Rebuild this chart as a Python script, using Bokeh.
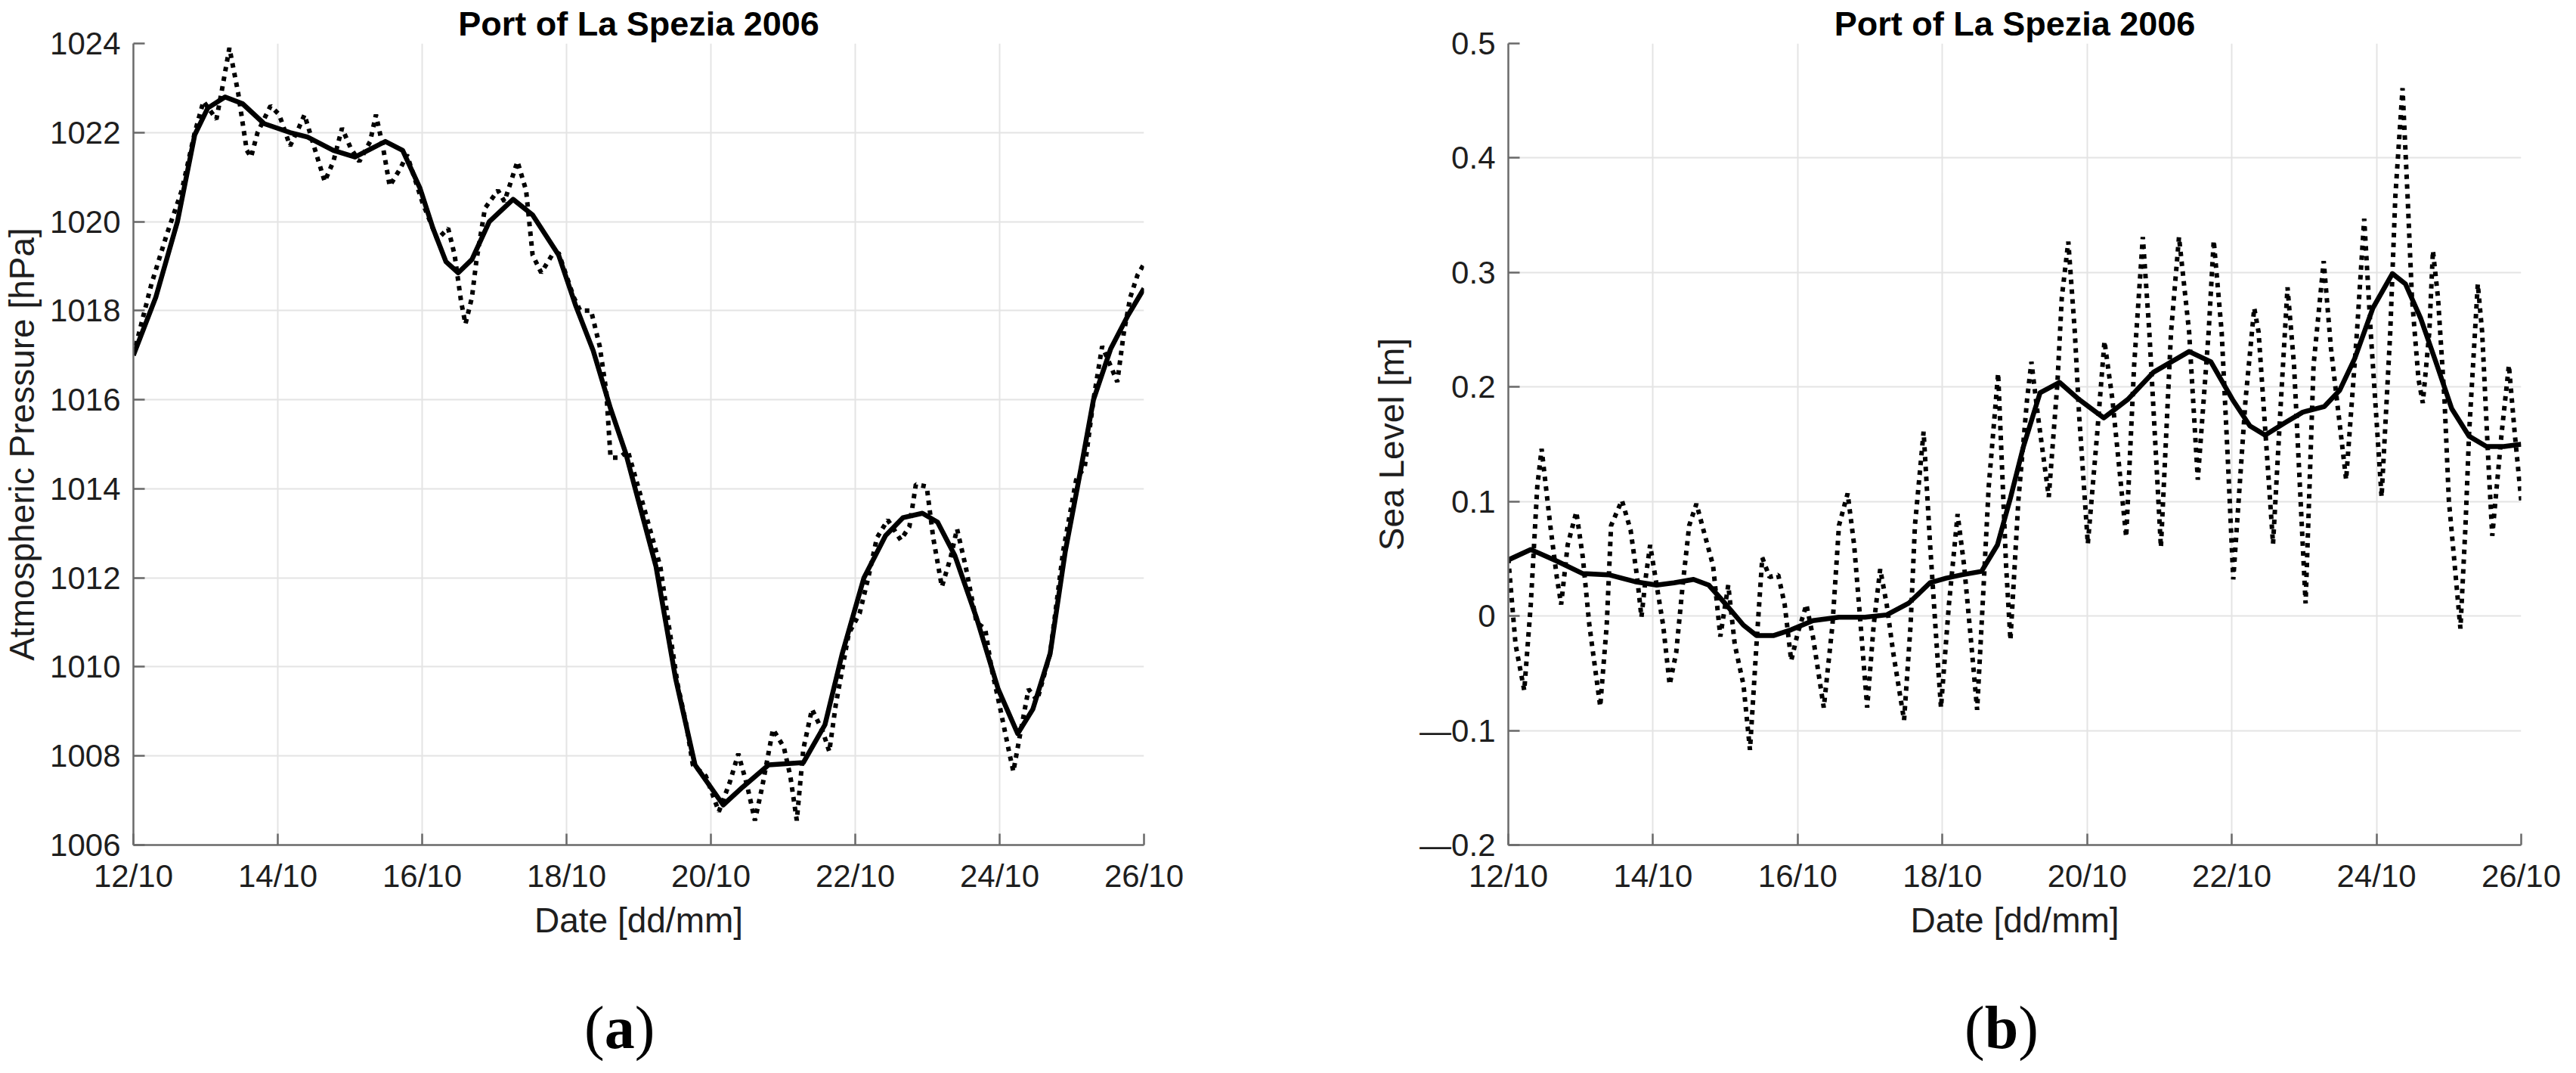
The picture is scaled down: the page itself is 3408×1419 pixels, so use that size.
from bokeh.plotting import figure
from bokeh.layouts import row, column
from bokeh.models import FixedTicker, Range1d, Div
from bokeh.embed import file_html
from bokeh.resources import INLINE

# ---------------- data (time in days of October 2006) ----------------
day_ticks = [12, 14, 16, 18, 20, 22, 24, 26]
day_tick_labels = ["12/10", "14/10", "16/10", "18/10", "20/10", "22/10", "24/10", "26/10"]

pressure_ticks = [1006, 1008, 1010, 1012, 1014, 1016, 1018, 1020, 1022, 1024]
sea_ticks = [-0.2, -0.1, 0, 0.1, 0.2, 0.3, 0.4, 0.5]
sea_tick_labels = ["\u20140.2", "\u20140.1", "0", "0.1", "0.2", "0.3", "0.4", "0.5"]

# atmospheric pressure, hourly record (dotted)
pressure_raw_t = [
    12.00, 12.25, 12.46, 12.67, 12.85, 12.97, 13.15, 13.22, 13.33, 13.45,
    13.57, 13.63, 13.72, 13.90, 14.02, 14.17, 14.29, 14.37, 14.50, 14.65,
    14.77, 14.89, 15.01, 15.13, 15.28, 15.36, 15.46, 15.55, 15.70, 15.79,
    16.00, 16.21, 16.36, 16.45, 16.54, 16.60, 16.69, 16.75, 16.87, 17.05,
    17.14, 17.32, 17.44, 17.53, 17.65, 17.80, 17.89, 18.10, 18.19, 18.34,
    18.46, 18.55, 18.61, 18.73, 18.85, 19.00, 19.30, 19.42, 19.54, 19.66,
    19.75, 19.93, 20.11, 20.26, 20.38, 20.50, 20.61, 20.71, 20.86, 21.01,
    21.10, 21.19, 21.28, 21.40, 21.55, 21.64, 21.73, 21.91, 22.06, 22.18,
    22.30, 22.45, 22.63, 22.75, 22.84, 22.99, 23.08, 23.20, 23.32, 23.41,
    23.53, 23.68, 23.80, 23.89, 24.01, 24.13, 24.19, 24.28, 24.40, 24.52,
    24.70, 24.88, 25.06, 25.18, 25.30, 25.42, 25.54, 25.63, 25.72, 25.81,
    25.91, 26.00]
pressure_raw = [
    1017.0, 1018.6, 1019.7, 1020.7, 1022.0, 1022.7, 1022.3, 1022.9, 1023.9, 1022.9,
    1021.6, 1021.45, 1022.0, 1022.6, 1022.4, 1021.7, 1022.1, 1022.4, 1021.7, 1020.9,
    1021.35, 1022.1, 1021.65, 1021.35, 1021.8, 1022.4, 1021.65, 1020.8, 1021.2, 1021.5,
    1020.45, 1019.6, 1019.85, 1019.25, 1018.2, 1017.7, 1018.3, 1019.1, 1020.3, 1020.7,
    1020.45, 1021.35, 1020.7, 1019.25, 1018.85, 1019.25, 1019.3, 1018.3, 1018.0, 1018.0,
    1017.2, 1016.2, 1014.7, 1014.7, 1014.85, 1014.0, 1012.25, 1010.9, 1009.6, 1008.7,
    1007.8, 1007.55, 1006.75, 1007.4, 1008.05, 1007.35, 1006.55, 1007.3, 1008.6, 1008.2,
    1007.55, 1006.55, 1008.15, 1009.05, 1008.55, 1008.1, 1009.15, 1010.75, 1011.2, 1012.0,
    1012.9, 1013.3, 1012.85, 1013.15, 1014.1, 1014.05, 1012.9, 1011.8, 1012.45, 1013.1,
    1012.25, 1011.0, 1010.85, 1009.95, 1009.05, 1008.1, 1007.65, 1008.45, 1009.5, 1009.25,
    1010.3, 1012.6, 1014.2, 1014.5, 1016.0, 1017.2, 1016.75, 1016.4, 1017.5, 1018.3,
    1018.8, 1019.05]

# atmospheric pressure, low-pass filtered (solid)
pressure_filt_t = [
    12.00, 12.31, 12.61, 12.85, 13.03, 13.27, 13.51, 13.81, 14.17, 14.41,
    14.77, 15.07, 15.31, 15.49, 15.73, 15.97, 16.15, 16.33, 16.50, 16.69,
    16.93, 17.26, 17.53, 17.89, 18.13, 18.37, 18.61, 18.82, 19.24, 19.51,
    19.78, 20.17, 20.44, 20.80, 21.28, 21.58, 21.82, 22.12, 22.42, 22.66,
    22.93, 23.14, 23.38, 23.68, 23.98, 24.25, 24.46, 24.70, 24.91, 25.12,
    25.30, 25.54, 25.78, 26.00]
pressure_filt = [
    1017.0, 1018.3, 1020.0, 1021.95, 1022.55, 1022.8, 1022.65, 1022.2, 1022.0, 1021.9,
    1021.6, 1021.45, 1021.65, 1021.8, 1021.6, 1020.75, 1019.85, 1019.1, 1018.85, 1019.15,
    1020.0, 1020.5, 1020.15, 1019.25, 1018.1, 1017.1, 1015.8, 1014.8, 1012.25, 1009.75,
    1007.8, 1006.9, 1007.3, 1007.8, 1007.85, 1008.7, 1010.3, 1012.0, 1012.95, 1013.35,
    1013.45, 1013.25, 1012.5, 1011.1, 1009.5, 1008.5, 1009.05, 1010.3, 1012.6, 1014.4,
    1016.0, 1017.15, 1017.9, 1018.5]

# sea level, hourly record (dotted)
sea_raw_t = [
    12.00, 12.10, 12.22, 12.31, 12.40, 12.46, 12.58, 12.67, 12.73, 12.82,
    12.94, 13.03, 13.12, 13.27, 13.36, 13.42, 13.57, 13.69, 13.78, 13.84,
    13.90, 13.96, 14.05, 14.14, 14.23, 14.32, 14.41, 14.50, 14.60, 14.71,
    14.83, 14.93, 15.04, 15.13, 15.25, 15.34, 15.43, 15.51, 15.61, 15.73,
    15.82, 15.91, 16.00, 16.12, 16.21, 16.36, 16.48, 16.57, 16.69, 16.78,
    16.87, 16.96, 17.05, 17.14, 17.23, 17.32, 17.47, 17.56, 17.62, 17.74,
    17.83, 17.92, 17.98, 18.09, 18.21, 18.30, 18.39, 18.48, 18.57, 18.64,
    18.77, 18.88, 18.94, 19.05, 19.17, 19.23, 19.32, 19.47, 19.59, 19.65,
    19.74, 19.83, 19.89, 20.01, 20.14, 20.24, 20.35, 20.54, 20.65, 20.77,
    20.86, 21.02, 21.16, 21.27, 21.41, 21.53, 21.68, 21.75, 21.86, 21.95,
    22.02, 22.19, 22.31, 22.37, 22.57, 22.68, 22.77, 22.86, 23.02, 23.13,
    23.27, 23.37, 23.58, 23.73, 23.83, 23.92, 24.07, 24.19, 24.26, 24.36,
    24.43, 24.49, 24.58, 24.64, 24.73, 24.78, 24.85, 24.94, 25.00, 25.16,
    25.23, 25.28, 25.40, 25.46, 25.55, 25.60, 25.73, 25.83, 25.91, 26.00]
sea_raw = [
    0.050, -0.025, -0.065, 0.010, 0.113, 0.146, 0.079, 0.034, 0.010, 0.062,
    0.091, 0.051, -0.008, -0.079, -0.008, 0.079, 0.101, 0.075, 0.034, -0.001,
    0.034, 0.062, 0.027, -0.008, -0.060, -0.032, 0.027, 0.079, 0.098, 0.072,
    0.044, -0.018, 0.027, -0.025, -0.060, -0.117, -0.025, 0.051, 0.034, 0.036,
    0.010, -0.039, -0.015, 0.010, -0.018, -0.080, -0.008, 0.079, 0.107, 0.062,
    -0.008, -0.080, -0.008, 0.041, 0.010, -0.032, -0.091, -0.008, 0.079, 0.161,
    0.062, -0.025, -0.080, 0.010, 0.089, 0.044, -0.018, -0.082, 0.027, 0.113,
    0.212, 0.044, -0.021, 0.101, 0.189, 0.222, 0.175, 0.104, 0.204, 0.278,
    0.327, 0.248, 0.175, 0.063, 0.160, 0.240, 0.189, 0.069, 0.219, 0.331,
    0.248, 0.060, 0.248, 0.331, 0.248, 0.119, 0.248, 0.328, 0.248, 0.130,
    0.032, 0.189, 0.269, 0.248, 0.063, 0.189, 0.287, 0.219, 0.011, 0.219,
    0.310, 0.234, 0.119, 0.248, 0.347, 0.248, 0.104, 0.248, 0.366, 0.461,
    0.366, 0.278, 0.207, 0.186, 0.248, 0.319, 0.278, 0.189, 0.101, -0.011,
    0.079, 0.160, 0.290, 0.248, 0.130, 0.070, 0.160, 0.219, 0.160, 0.101]

# sea level, low-pass filtered (solid)
sea_filt_t = [
    12.00, 12.31, 12.67, 13.03, 13.39, 13.75, 14.05, 14.29, 14.56, 14.77,
    15.01, 15.25, 15.43, 15.67, 15.91, 16.21, 16.57, 16.93, 17.23, 17.53,
    17.83, 18.05, 18.27, 18.54, 18.76, 18.94, 19.12, 19.35, 19.62, 19.89,
    20.23, 20.56, 20.92, 21.41, 21.71, 22.01, 22.25, 22.46, 22.74, 22.98,
    23.28, 23.49, 23.70, 23.95, 24.22, 24.40, 24.61, 24.82, 25.04, 25.28,
    25.52, 25.76, 26.00]
sea_filt = [
    0.049, 0.058, 0.048, 0.037, 0.036, 0.030, 0.027, 0.029, 0.032, 0.027,
    0.010, -0.008, -0.017, -0.017, -0.012, -0.004, -0.001, -0.001, 0.001, 0.011,
    0.029, 0.033, 0.036, 0.039, 0.062, 0.103, 0.148, 0.195, 0.204, 0.189,
    0.173, 0.189, 0.213, 0.231, 0.222, 0.189, 0.166, 0.158, 0.169, 0.178,
    0.183, 0.197, 0.225, 0.269, 0.299, 0.290, 0.260, 0.222, 0.181, 0.157,
    0.148, 0.148, 0.150]

TITLE = "Port of La Spezia 2006"
XLABEL = "Date [dd/mm]"
CAPTIONS = ["a", "b"]

# ---------------- styling ----------------
SANS = "Liberation Sans"
SERIF = "Liberation Serif"
H = 1290
AX = "#6a6a6a"
TXT = "#1e1e1e"
GRID = "#e4e4e4"


def panel(ylabel, yticks, ylabels, t_raw, v_raw, t_f, v_f, width, left, right):
    p = figure(width=width, height=H, output_backend="svg", toolbar_location=None,
               x_range=Range1d(day_ticks[0], day_ticks[-1]),
               y_range=Range1d(yticks[0], yticks[-1]),
               min_border_left=left, min_border_right=right,
               min_border_top=57, min_border_bottom=H - 1117)
    p.outline_line_color = None
    p.background_fill_color = "white"
    p.border_fill_color = "white"

    p.title.text = TITLE
    p.title.align = "center"
    p.title.text_font = SANS
    p.title.text_font_size = "45px"
    p.title.text_font_style = "bold"
    p.title.text_color = "#000000"
    p.title.standoff = 2

    p.line(t_raw, v_raw, line_color="black", line_width=6, line_dash="6 7")
    p.line(t_f, v_f, line_color="black", line_width=6.5, line_join="round")

    p.xaxis.ticker = FixedTicker(ticks=day_ticks)
    p.xaxis.major_label_overrides = {t: l for t, l in zip(day_ticks, day_tick_labels)}
    p.yaxis.ticker = FixedTicker(ticks=yticks)
    p.yaxis.major_label_overrides = {t: l for t, l in zip(yticks, ylabels)}

    p.xaxis.axis_label = XLABEL
    p.yaxis.axis_label = ylabel
    for ax in (p.xaxis, p.yaxis):
        ax.axis_line_color = AX
        ax.axis_line_width = 2.5
        ax.major_tick_line_color = AX
        ax.major_tick_line_width = 2.5
        ax.major_tick_in = 15
        ax.major_tick_out = 0
        ax.minor_tick_line_color = None
        ax.major_label_text_font = SANS
        ax.major_label_text_font_size = "42px"
        ax.major_label_text_color = TXT
        ax.major_label_standoff = 17
        ax.axis_label_text_font = SANS
        ax.axis_label_text_font_size = "46px"
        ax.axis_label_text_font_style = "normal"
        ax.axis_label_text_color = TXT
    p.xaxis.axis_label_standoff = 6
    p.yaxis.axis_label_standoff = 8

    p.grid.grid_line_color = GRID
    p.grid.grid_line_width = 2
    return p


def caption_div(letter, width, pad_left):
    html = ('<div style="font-family:\'Liberation Serif\',serif; font-size:80px; '
            'line-height:1; color:black; white-space:nowrap; '
            f'padding-top:24px; padding-left:{pad_left}px;">'
            f'(<b>{letter}</b>)</div>')
    return Div(text=html, width=width, height=110)


p1 = panel("Atmospheric Pressure [hPa]", pressure_ticks,
           [str(t) for t in pressure_ticks],
           pressure_raw_t, pressure_raw, pressure_filt_t, pressure_filt,
           1700, 174, 187)
p2 = panel("Sea Level [m]", sea_ticks, sea_tick_labels,
           sea_raw_t, sea_raw, sea_filt_t, sea_filt,
           1690, 295, 55)

d1 = caption_div(CAPTIONS[0], 1700, 768)
d2 = caption_div(CAPTIONS[1], 1690, 884)

layout = column(row(p1, p2), row(d1, d2))
open("out.html", "w").write(file_html(layout, INLINE))
